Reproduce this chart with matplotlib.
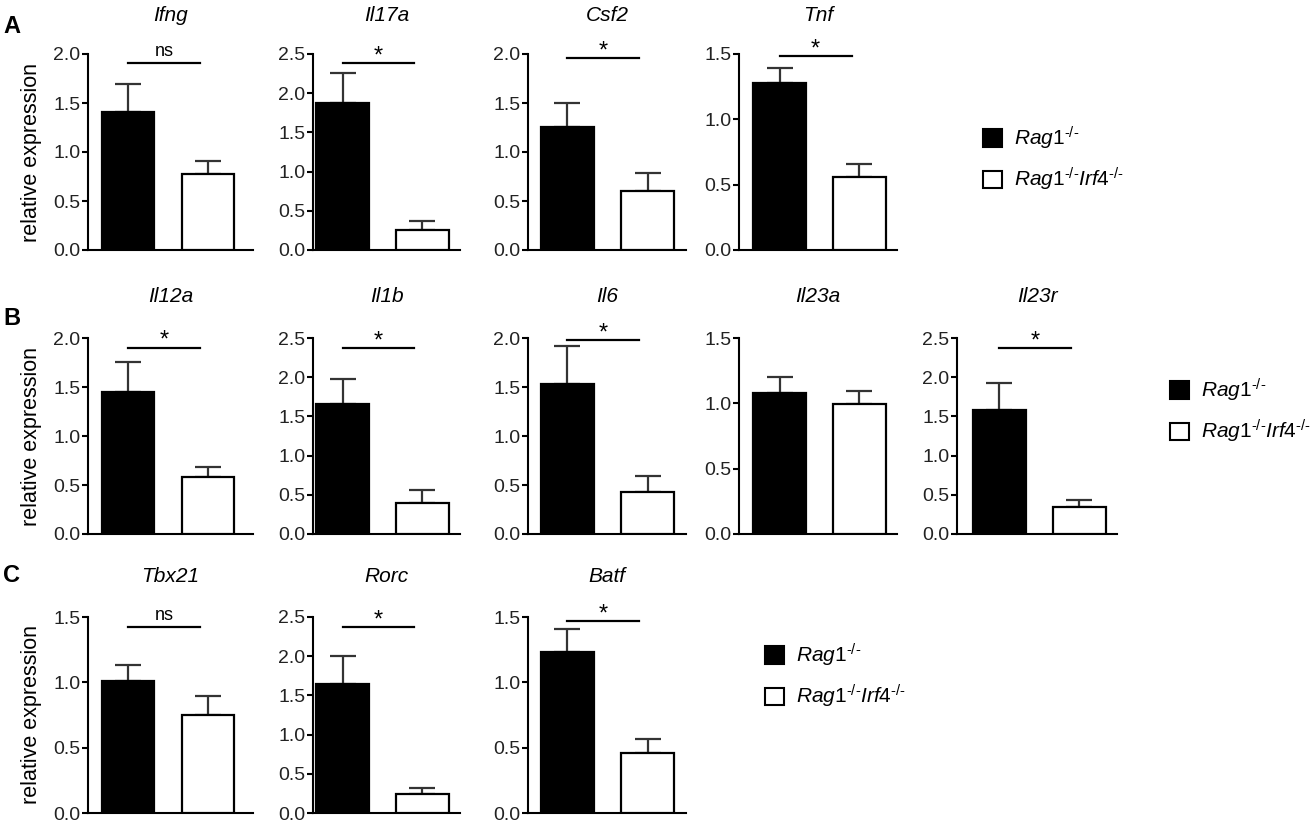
import numpy as np
import matplotlib
matplotlib.use("Agg")
import matplotlib.pyplot as plt
from matplotlib.patches import Patch
from matplotlib.ticker import MultipleLocator, FormatStrFormatter

plt.rcParams["font.family"] = "Liberation Sans"
plt.rcParams["mathtext.fontset"] = "custom"
plt.rcParams["mathtext.rm"] = "Liberation Sans"
plt.rcParams["mathtext.it"] = "Liberation Sans:italic"

# values (mean and upper SEM) per gene
genes_a = ["Ifng", "Il17a", "Csf2", "Tnf"]
rag1_a = [1.41, 1.88, 1.255, 1.276]
rag1_err_a = [0.28, 0.38, 0.24, 0.114]
dko_a = [0.78, 0.255, 0.605, 0.556]
dko_err_a = [0.13, 0.12, 0.18, 0.10]
ymax_a = [2.0, 2.5, 2.0, 1.5]
sig_a = ["ns", "*", "*", "*"]
sig_y_a = [1.91, 2.385, 1.96, 1.485]

genes_b = ["Il12a", "Il1b", "Il6", "Il23a", "Il23r"]
rag1_b = [1.444, 1.653, 1.528, 1.077, 1.576]
rag1_err_b = [0.31, 0.33, 0.387, 0.126, 0.344]
dko_b = [0.586, 0.394, 0.427, 0.997, 0.339]
dko_err_b = [0.10, 0.17, 0.16, 0.098, 0.097]
ymax_b = [2.0, 2.5, 2.0, 1.5, 2.5]
sig_b = ["*", "*", "*", None, "*"]
sig_y_b = [1.9, 2.37, 1.98, None, 2.37]

genes_c = ["Tbx21", "Rorc", "Batf"]
rag1_c = [1.011, 1.651, 1.232]
rag1_err_c = [0.125, 0.348, 0.173]
dko_c = [0.749, 0.246, 0.458]
dko_err_c = [0.145, 0.072, 0.112]
ymax_c = [1.5, 2.5, 1.5]
sig_c = ["ns", "*", "*"]
sig_y_c = [1.425, 2.37, 1.47]

# \u2010 is a real hyphen, mathtext turns "-" into a wide minus
groups = ["$\\mathit{Rag1}^{\\mathit{\u2010/\u2010}}$",
          "$\\mathit{Rag1}^{\\mathit{\u2010/\u2010}}\\mathit{Irf4}^{\\mathit{\u2010/\u2010}}$"]

# layout in pixels
W, H = 1312, 824
col_px = [(88, 253), (313, 460), (528, 686), (739, 897), (957, 1117)]
col_xlim = [(-0.5, 1.5625), (-0.37, 1.47), (-0.49, 1.48), (-0.51, 1.47), (-0.53, 1.47)]
row_px = [(54, 250), (338, 534), (617, 813)]
title_pad = [24, 26, 25.5]
letter_px = [(3, 33), (3, 325), (3, 582)]
legend_px = [(983, 159), (1170, 411), (765, 676)]

fig = plt.figure(figsize=(W / 100, H / 100), dpi=100)

rows = [
    (genes_a, rag1_a, rag1_err_a, dko_a, dko_err_a, ymax_a, sig_a, sig_y_a),
    (genes_b, rag1_b, rag1_err_b, dko_b, dko_err_b, ymax_b, sig_b, sig_y_b),
    (genes_c, rag1_c, rag1_err_c, dko_c, dko_err_c, ymax_c, sig_c, sig_y_c),
]

for r, (genes, m1, e1, m2, e2, ymax, sig, sig_y) in enumerate(rows):
    ytop, ybot = row_px[r]
    last_ax = None
    for c, gene in enumerate(genes):
        x0, x1 = col_px[c]
        ax = fig.add_axes([x0 / W, 1 - ybot / H, (x1 - x0) / W, (ybot - ytop) / H])
        ax.bar([0, 1], [m1[c], m2[c]], width=0.66, color=["black", "white"],
               edgecolor="black", linewidth=1.6, zorder=3)
        ax.errorbar([0, 1], [m1[c], m2[c]], yerr=[[0, 0], [e1[c], e2[c]]], fmt="none",
                    ecolor="#333333", elinewidth=1.6, capsize=9.4, capthick=1.6, zorder=2)
        ax.set_xlim(*col_xlim[c])
        ax.set_ylim(0, ymax[c])
        ax.yaxis.set_major_locator(MultipleLocator(0.5))
        ax.yaxis.set_major_formatter(FormatStrFormatter("%.1f"))
        ax.set_xticks([])
        for s in ["top", "right"]:
            ax.spines[s].set_visible(False)
        for s in ["left", "bottom"]:
            ax.spines[s].set_linewidth(1.5)
        ax.tick_params(axis="y", length=4.5, width=1.5, labelsize=14, pad=1, labelcolor="#222222")
        ax.set_title(gene, fontstyle="italic", fontsize=15, pad=title_pad[r])
        if sig[c] is not None:
            ax.plot([0, 0.9], [sig_y[c], sig_y[c]], color="black", lw=1.6, clip_on=False)
            if sig[c] == "*":
                ax.annotate(sig[c], (0.45, sig_y[c]), xytext=(0, -3), textcoords="offset points",
                            ha="center", va="bottom", fontsize=17, annotation_clip=False)
            else:
                ax.annotate(sig[c], (0.45, sig_y[c]), xytext=(0, 2), textcoords="offset points",
                            ha="center", va="bottom", fontsize=13, annotation_clip=False)
        if c == 0:
            ax.set_ylabel("relative expression", fontsize=15.5)
            ax.yaxis.set_label_coords(-0.34, 0.5)
            ax.yaxis.label.set_va("center")
        last_ax = ax

    lx, ly = legend_px[r]
    handles = [Patch(facecolor="black", edgecolor="black", linewidth=1.5),
               Patch(facecolor="white", edgecolor="black", linewidth=1.5)]
    last_ax.legend(handles, groups, loc="center left", bbox_to_anchor=(lx / W, 1 - ly / H),
                   bbox_transform=fig.transFigure, frameon=False, fontsize=15,
                   handlelength=0.9, handleheight=0.9, handletextpad=0.6,
                   labelspacing=0.7, borderpad=0, borderaxespad=0)

    fx, fy = letter_px[r]
    fig.text(fx / W, 1 - fy / H, "ABC"[r], fontsize=17, fontweight="bold", va="baseline")

fig.savefig("out.png", dpi=100)
